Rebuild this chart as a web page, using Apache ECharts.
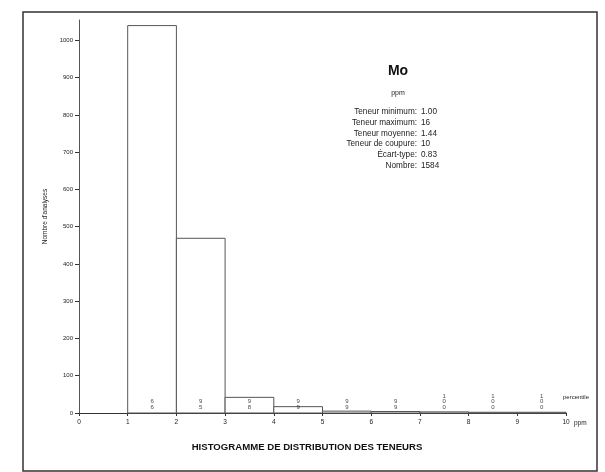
<!DOCTYPE html>
<html>
<head>
<meta charset="utf-8">
<script src="https://cdn.jsdelivr.net/npm/echarts@6/dist/echarts.min.js"></script>
<style>html,body{margin:0;padding:0;background:#fff;}#c{width:605px;height:472px;}</style>
</head>
<body>
<div id="c"></div>
<script>
// Histogram bins (ppm) and counts
const binStarts = [1, 2, 3, 4, 5, 6, 7, 8, 9];
const binEnds   = [2, 3, 4, 5, 6, 7, 8, 9, 10];
const counts    = [1040, 469, 42, 17, 5, 4, 3, 2, 2];
const percentiles = ['66', '95', '98', '99', '99', '99', '100', '100', '100'];
const yTicks = [0, 100, 200, 300, 400, 500, 600, 700, 800, 900, 1000];
const xTicks = [0, 1, 2, 3, 4, 5, 6, 7, 8, 9, 10];
const statLabels = ['Teneur minimum:', 'Teneur maximum:', 'Teneur moyenne:', 'Teneur de coupure:', 'Écart-type:', 'Nombre:'];
const statValues = ['1.00', '16', '1.44', '10', '0.83', '1584'];
const element = 'Mo';
const unit = 'ppm';
const chartTitle = 'HISTOGRAMME DE DISTRIBUTION DES TENEURS';
const yName = "Nombre d'analyses";
const pctName = 'percentile';

const FONT = 'Liberation Sans';
const TXT = '#222';

const chart = echarts.init(document.getElementById('c'), null, {renderer: 'canvas'});

const barData = binStarts.map((s, i) => [s, binEnds[i], counts[i]]);
const pctData = binStarts.map((s, i) => [(s + binEnds[i]) / 2, 0, percentiles[i]]);

const graphics = [
  {type: 'rect', shape: {x: 23, y: 12, width: 574, height: 459}, style: {fill: 'none', stroke: '#333', lineWidth: 1.5}, silent: true},
  {type: 'text', x: 398, y: 71, style: {text: element, font: 'bold 14px ' + FONT, fill: '#111', textAlign: 'center', textVerticalAlign: 'middle'}},
  {type: 'text', x: 398, y: 93, style: {text: unit, font: '7px ' + FONT, fill: TXT, textAlign: 'center', textVerticalAlign: 'middle'}},
  {type: 'text', x: 563, y: 397, style: {text: pctName, font: '6px ' + FONT, fill: TXT, textAlign: 'left', textVerticalAlign: 'middle'}},
  {type: 'text', x: 574, y: 423, style: {text: unit, font: '6.5px ' + FONT, fill: TXT, textAlign: 'left', textVerticalAlign: 'middle'}},
  {type: 'text', x: 307, y: 447, style: {text: chartTitle, font: 'bold 9.6px ' + FONT, fill: '#111', textAlign: 'center', textVerticalAlign: 'middle'}}
];
statLabels.forEach((l, i) => {
  const y = 112 + i * 10.7;
  graphics.push({type: 'text', x: 417, y: y, style: {text: l, font: '8.2px ' + FONT, fill: TXT, textAlign: 'right', textVerticalAlign: 'middle'}});
  graphics.push({type: 'text', x: 421, y: y, style: {text: statValues[i], font: '8.2px ' + FONT, fill: TXT, textAlign: 'left', textVerticalAlign: 'middle'}});
});

chart.setOption({
  animation: false,
  backgroundColor: '#fff',
  grid: {left: 79, right: 39, top: 20, bottom: 59},
  xAxis: {
    type: 'value', min: 0, max: 10, interval: 1,
    splitLine: {show: false},
    axisLine: {lineStyle: {color: '#333', width: 1}},
    axisTick: {show: true, length: 3, lineStyle: {color: '#333'}},
    axisLabel: {fontSize: 6.5, fontFamily: FONT, color: TXT, margin: 6, customValues: xTicks,
      formatter: function (v) { return String(v); }}
  },
  yAxis: {
    type: 'value', min: 0, max: 1055,
    name: yName, nameLocation: 'middle', nameGap: 26, nameRotate: 90,
    nameTextStyle: {fontSize: 6.5, fontFamily: FONT, color: TXT},
    splitLine: {show: false},
    axisLine: {show: true, lineStyle: {color: '#555', width: 1}},
    axisTick: {show: true, length: 4, lineStyle: {color: '#333'}, customValues: yTicks},
    axisLabel: {fontSize: 6, fontFamily: FONT, color: TXT, margin: 6, customValues: yTicks,
      formatter: function (v) { return String(v); }}
  },
  graphic: graphics,
  series: [
    {
      type: 'custom',
      data: barData,
      encode: {x: [0, 1], y: 2},
      renderItem: function (params, api) {
        const p0 = api.coord([api.value(0), 0]);
        const p1 = api.coord([api.value(1), api.value(2)]);
        return {
          type: 'rect',
          shape: {x: p0[0], y: p1[1], width: p1[0] - p0[0], height: p0[1] - p1[1]},
          style: {fill: '#fff', stroke: '#555', lineWidth: 1}
        };
      }
    },
    {
      type: 'scatter',
      data: pctData,
      symbolSize: 0,
      z: 5,
      label: {
        show: true, position: 'top', distance: 3,
        fontSize: 6, fontFamily: FONT, color: '#111', lineHeight: 5.5,
        formatter: function (p) { return p.value[2].split('').join('\n'); }
      }
    }
  ]
});
</script>
</body>
</html>
